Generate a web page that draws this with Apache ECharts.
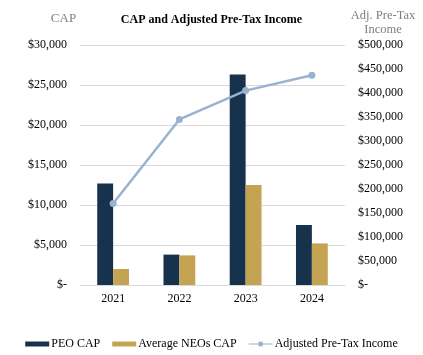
<!DOCTYPE html>
<html><head><meta charset="utf-8">
<script src="https://cdn.jsdelivr.net/npm/echarts@6/dist/echarts.min.js"></script>
<style>html,body{margin:0;padding:0;background:#fff}#c{width:423px;height:355px}</style>
</head><body><div id="c"></div>
<script>
const categories = ['2021','2022','2023','2024'];
const peoCap = [12700, 3800, 26300, 7500];
const neoCap = [2000, 3700, 12500, 5200];
const adjPreTax = [170000, 345000, 405000, 437000];
const leftTicks = {min:0, max:30000, interval:5000};
const rightTicks = {min:0, max:500000, interval:50000};

const font = '"Liberation Serif", "Times New Roman", serif';
function money(v){ return v === 0 ? '$-' : '$' + v.toLocaleString('en-US'); }
const chart = echarts.init(document.getElementById('c'));
chart.setOption({
  animation:false,
  textStyle:{fontFamily:font},
  title:{text:'CAP and Adjusted Pre-Tax Income', left:'center', top:9,
    textStyle:{fontFamily:font, fontSize:12, fontWeight:'bold', color:'#000'}},
  grid:{left:80, right:78, top:45, bottom:70},
  legend:{bottom:0, left:'center', itemWidth:24, itemHeight:5, itemGap:12,
    textStyle:{fontFamily:font, fontSize:12, color:'#000', padding:[0,0,0,-3]},
    data:[{name:'PEO CAP', icon:'rect'},{name:'Average NEOs CAP', icon:'rect'},{name:'Adjusted Pre-Tax Income', icon:'path://M0,4.5 L22,4.5 L22,5.5 L0,5.5 Z M9,3 L13,3 L13,7 L9,7 Z'}]},
  xAxis:{type:'category', data:categories,
    axisLine:{lineStyle:{color:'#d9d9d9'}}, axisTick:{show:false},
    axisLabel:{fontFamily:font, fontSize:12, color:'#000', margin:8}},
  yAxis:[
    {type:'value', min:leftTicks.min, max:leftTicks.max, interval:leftTicks.interval,
     name:'CAP', nameLocation:'end', nameGap:20,
     nameTextStyle:{fontFamily:font, fontSize:13, color:'#7f7f7f', align:'center', padding:[0,0,0,-33]},
     axisLine:{show:false}, axisTick:{show:false},
     splitLine:{lineStyle:{color:'#d9d9d9'}},
     axisLabel:{fontFamily:font, fontSize:12, color:'#000', margin:13, formatter:money}},
    {type:'value', min:rightTicks.min, max:rightTicks.max, interval:rightTicks.interval,
     name:'Adj. Pre-Tax\nIncome', nameLocation:'end', nameGap:8,
     nameTextStyle:{fontFamily:font, fontSize:12.5, color:'#7f7f7f', align:'center', lineHeight:14, padding:[0,0,0,76]},
     axisLine:{show:false}, axisTick:{show:false}, splitLine:{show:false},
     axisLabel:{fontFamily:font, fontSize:12, color:'#000', margin:13, formatter:money}}
  ],
  series:[
    {name:'PEO CAP', type:'bar', data:peoCap, barGap:'0%', barCategoryGap:'52%',
     itemStyle:{color:'#17324D'}},
    {name:'Average NEOs CAP', type:'bar', data:neoCap, itemStyle:{color:'#C4A453'}},
    {name:'Adjusted Pre-Tax Income', type:'line', yAxisIndex:1, data:adjPreTax,
     symbol:'circle', symbolSize:7, lineStyle:{color:'#98B2CF', width:2.5},
     itemStyle:{color:'#98B2CF'}}
  ]
});
</script></body></html>
